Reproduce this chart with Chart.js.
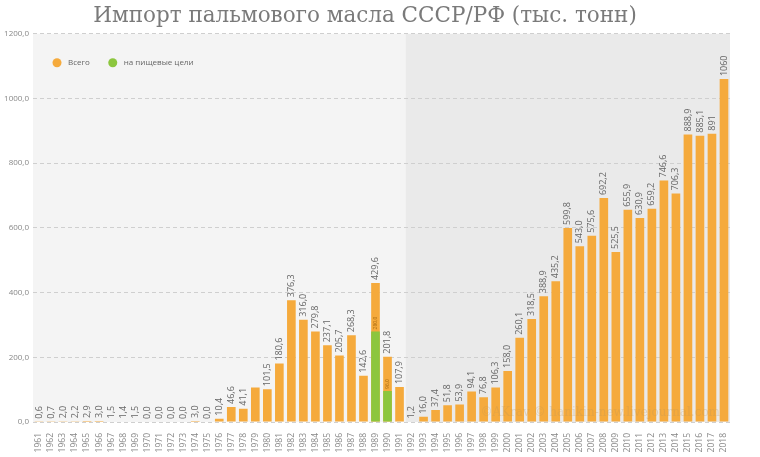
<!DOCTYPE html>
<html>
<head>
<meta charset="utf-8">
<script src="https://cdn.jsdelivr.net/npm/chart.js@4"></script>
<style>
    html, body { margin: 0; padding: 0; background: #fff; }
    #wrap { width: 760px; height: 457px; position: relative; }
</style>
</head>
<body>
<div id="wrap"><canvas id="palm-chart"></canvas></div>
<script>
// Years on the x axis
const years = [];
for (let y = 1961; y <= 2018; y++) years.push(String(y));

// Total import, thousand tonnes
const totalValues = [
    0.6, 0.7, 2.0, 2.2, 2.9, 3.0, 1.5, 1.4, 1.5, 0.0,
    0.0, 0.0, 0.0, 3.0, 0.0, 10.4, 46.6, 41.1, 107.0, 101.5,
    180.6, 376.3, 316.0, 279.8, 237.1, 205.7, 268.3, 142.6, 429.6, 201.8,
    107.9, 1.2, 16.0, 37.4, 51.8, 53.9, 94.1, 76.8, 106.3, 158.0,
    260.1, 318.5, 388.9, 435.2, 599.8, 543.0, 575.6, 692.2, 525.5, 655.9,
    630.9, 659.2, 746.6, 706.3, 888.9, 885.1, 891, 1060
];

// Food use, known only for 1989 and 1990
const foodValues = years.map(() => null);
foodValues[years.indexOf('1989')] = 280.0;
foodValues[years.indexOf('1990')] = 96.0;

const yTicks = [0, 200, 400, 600, 800, 1000, 1200];
const intLabelYears = ['2017', '2018'];   // shown without decimals
const noLabelYears = ['1979'];            // label missing on the picture
const ussrLastYear = '1991';

const orange = '#f5aa3c';
const green = '#8cc63e';

function fmt(v, dec) {
    return dec ? v.toFixed(1).replace('.', ',') : String(Math.round(v));
}

// shaded backgrounds: USSR part lighter, RF part darker
const backgroundPlugin = {
    id: 'periodBackground',
    beforeDraw(chart) {
        const { ctx, chartArea: a, scales: { x } } = chart;
        const i = years.indexOf(ussrLastYear);
        const split = (x.getPixelForValue(i) + x.getPixelForValue(i + 1)) / 2;
        ctx.save();
        ctx.fillStyle = '#f4f4f4';
        ctx.fillRect(a.left, a.top, split - a.left, a.bottom - a.top);
        ctx.fillStyle = '#eaeaea';
        ctx.fillRect(split, a.top, a.right - split, a.bottom - a.top);
        ctx.restore();
    }
};

// legend inside the plot, top left
const legendPlugin = {
    id: 'innerLegend',
    afterDraw(chart) {
        const { ctx, chartArea: a } = chart;
        const y = a.top + 29;
        let x = a.left + 24;
        ctx.save();
        ctx.font = '8px "Open Sans"';
        ctx.textBaseline = 'middle';
        ctx.textAlign = 'left';
        chart.data.datasets.forEach(ds => {
            ctx.fillStyle = ds.backgroundColor;
            ctx.beginPath();
            ctx.arc(x, y, 4.5, 0, Math.PI * 2);
            ctx.fill();
            ctx.fillStyle = '#666';
            ctx.fillText(ds.label, x + 11, y);
            x += 11 + ctx.measureText(ds.label).width + 23;
        });
        ctx.restore();
    }
};

// vertical value labels above the bars
const valueLabelPlugin = {
    id: 'valueLabels',
    afterDatasetsDraw(chart) {
        const { ctx } = chart;
        ctx.save();
        ctx.textAlign = 'left';
        ctx.textBaseline = 'middle';

        const meta = chart.getDatasetMeta(0);
        ctx.font = '9px "Open Sans"';
        ctx.fillStyle = '#666';
        meta.data.forEach((bar, i) => {
            if (noLabelYears.includes(years[i])) return;
            const txt = fmt(totalValues[i], !intLabelYears.includes(years[i]));
            ctx.save();
            ctx.translate(bar.x, bar.y - 3);
            ctx.rotate(-Math.PI / 2);
            ctx.fillText(txt, 0, 0);
            ctx.restore();
        });

        const metaFood = chart.getDatasetMeta(1);
        ctx.font = '5px "Open Sans"';
        ctx.fillStyle = '#a86a10';
        metaFood.data.forEach((bar, i) => {
            if (foodValues[i] == null) return;
            ctx.save();
            ctx.translate(bar.x, bar.y - 2);
            ctx.rotate(-Math.PI / 2);
            ctx.fillText(fmt(foodValues[i], true), 0, 0);
            ctx.restore();
        });

        // watermark
        const a = chart.chartArea;
        ctx.font = '12px "DejaVu Serif"';
        ctx.fillStyle = 'rgba(190, 150, 90, 0.3)';
        ctx.textAlign = 'right';
        ctx.fillText('©AKrav © hanikin-new.livejournal.com', a.right - 10, a.bottom - 9);
        ctx.restore();
    }
};

const ctx = document.getElementById('palm-chart').getContext('2d');

new Chart(ctx, {
    type: 'bar',
    data: {
        labels: years,
        datasets: [{
            label: 'Всего',
            data: totalValues,
            backgroundColor: orange,
            order: 1,
            grouped: false,
            barPercentage: 0.72,
            categoryPercentage: 1
        }, {
            label: 'на пищевые цели',
            data: foodValues,
            backgroundColor: green,
            order: 0,
            grouped: false,
            barPercentage: 0.72,
            categoryPercentage: 1
        }]
    },
    options: {
        responsive: true,
        maintainAspectRatio: false,
        animation: false,
        layout: { padding: { top: 0, right: 30, left: 0, bottom: 0 } },
        scales: {
            x: {
                grid: { display: false },
                border: { display: false },
                ticks: {
                    autoSkip: false,
                    minRotation: 90,
                    maxRotation: 90,
                    padding: 3,
                    color: '#888',
                    font: { size: 8.5, family: '"Open Sans"' }
                },
                afterFit(scale) { scale.height = 35; }
            },
            y: {
                min: 0,
                max: 1200,
                border: { display: false, dash: [4, 3] },
                grid: {
                    color: '#cfcfcf',
                    drawTicks: false
                },
                afterBuildTicks(scale) {
                    scale.ticks = yTicks.map(v => ({ value: v }));
                },
                ticks: {
                    color: '#888',
                    padding: 4,
                    font: { size: 8, family: '"Open Sans"' },
                    callback: v => fmt(v, true)
                },
                afterFit(scale) { scale.width = 33; }
            }
        },
        plugins: {
            title: {
                display: true,
                text: 'Импорт пальмового масла СССР/РФ (тыс. тонн)',
                color: '#7a7a7a',
                font: { size: 21.5, family: '"DejaVu Serif"', weight: 'normal' },
                padding: { top: 4, bottom: 4 }
            },
            legend: { display: false },
            tooltip: { enabled: false }
        }
    },
    plugins: [backgroundPlugin, legendPlugin, valueLabelPlugin]
});
</script>
</body>
</html>
